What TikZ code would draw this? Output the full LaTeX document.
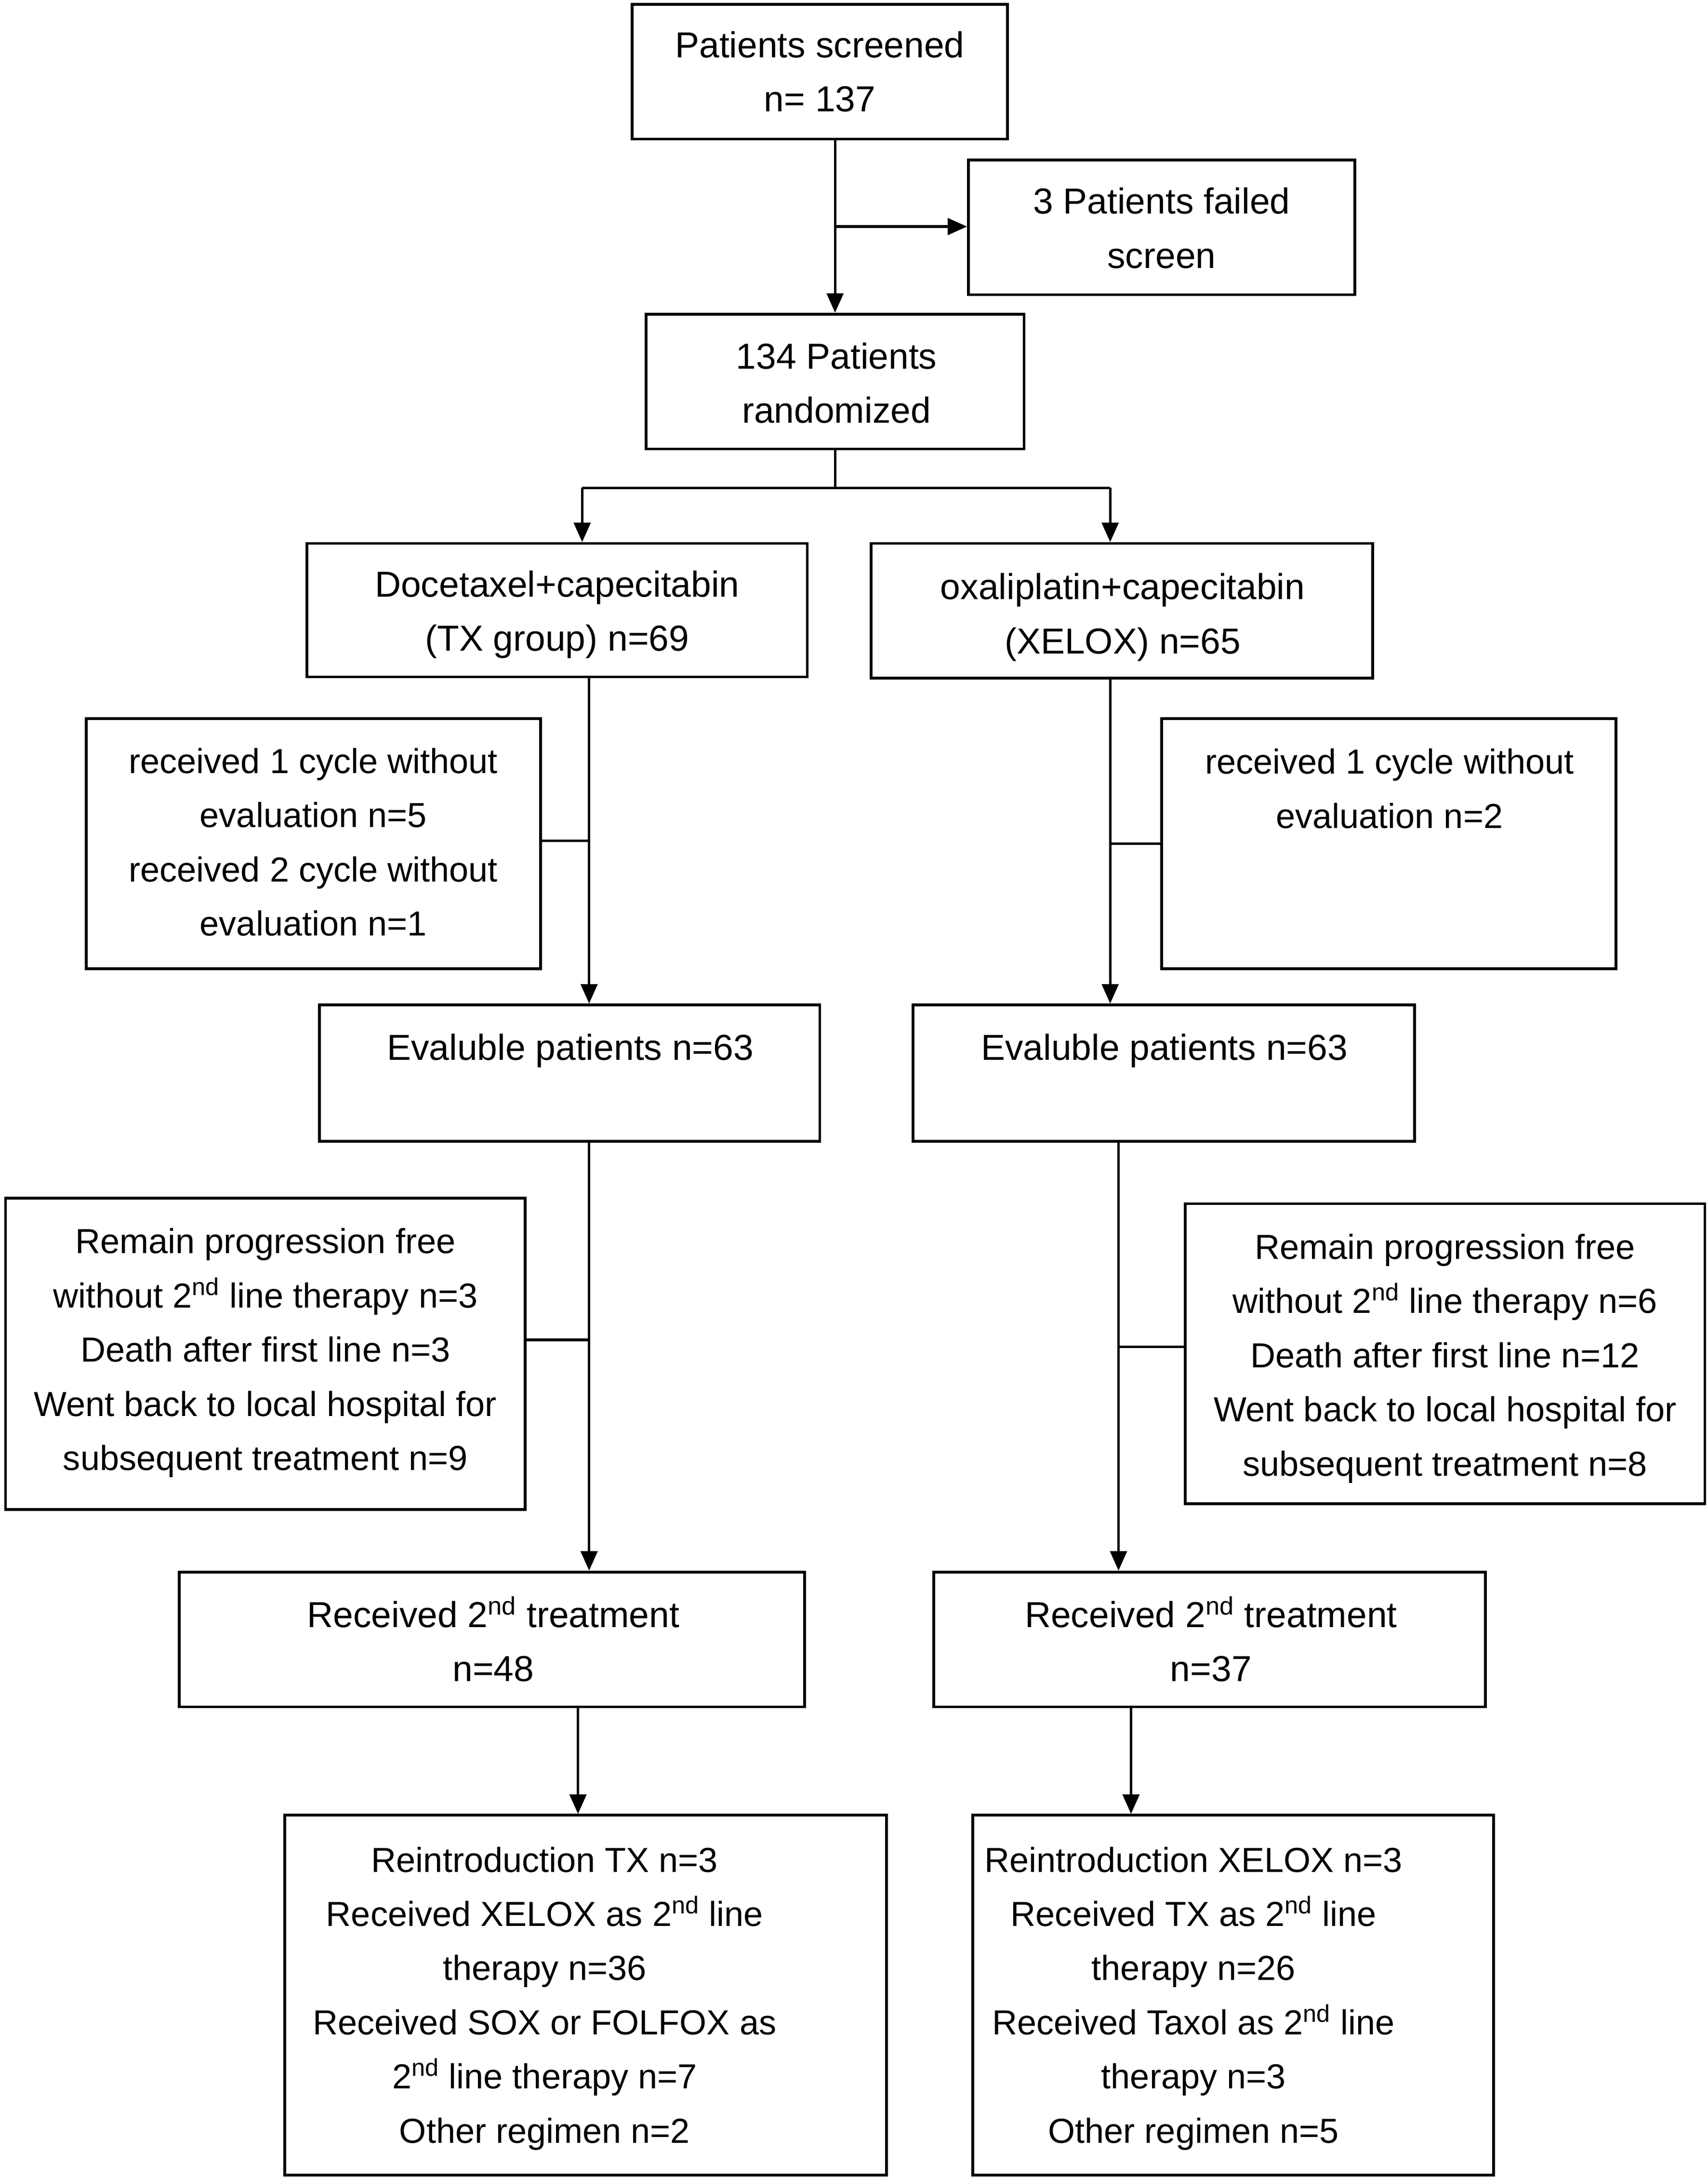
\documentclass[tikz,border=0pt]{standalone}
\usepackage{fontspec}
\setmainfont{Liberation Sans}
\usetikzlibrary{arrows.meta}
\begin{document}
\begin{tikzpicture}[x=1pt,y=-1pt,
  box/.style={draw,line width=2pt,rectangle,inner sep=0pt},
  txt/.style={align=center,inner sep=0pt,font=\fontsize{26}{39}\selectfont},
  stxt/.style={align=center,inner sep=0pt,font=\fontsize{25}{39}\selectfont},
  conn/.style={line width=1.8pt},
  arr/.style={line width=1.8pt,-{Triangle[length=14pt,width=12pt]}}]
\useasboundingbox (0,0) rectangle (1229,1567);
% boxes
\node[box,minimum width=270pt,minimum height=97pt] (scr) at (590,51.5) {};
\node[box,minimum width=278pt,minimum height=97pt] (fail) at (836,163.5) {};
\node[box,minimum width=272pt,minimum height=97pt] (rand) at (601,274.5) {};
\node[box,minimum width=360pt,minimum height=96pt] (tx) at (401,439) {};
\node[box,minimum width=361pt,minimum height=97pt] (xe) at (807.5,439.5) {};
\node[box,minimum width=327pt,minimum height=180pt] (nl) at (225.5,607) {};
\node[box,minimum width=327pt,minimum height=180pt] (nr) at (999.5,607) {};
\node[box,minimum width=360pt,minimum height=98pt] (el) at (410,772) {};
\node[box,minimum width=361pt,minimum height=98pt] (er) at (837.5,772) {};
\node[box,minimum width=374pt,minimum height=224pt] (rl) at (191,974) {};
\node[box,minimum width=374pt,minimum height=216pt] (rr) at (1040,974) {};
\node[box,minimum width=450pt,minimum height=97pt] (sl) at (354,1179.5) {};
\node[box,minimum width=397pt,minimum height=97pt] (sr) at (870.5,1179.5) {};
\node[box,minimum width=433pt,minimum height=259pt] (bl) at (421.5,1435.5) {};
\node[box,minimum width=375pt,minimum height=259pt] (br) at (887.5,1435.5) {};
% texts
\node[txt] (tscr) at (590,53) {\strut Patients screened\\\strut n= 137};
\node[txt] (tfail) at (836,165.5) {\strut 3 Patients failed\\\strut screen};
\node[txt] (trand) at (602,277) {\strut 134 Patients\\\strut randomized};
\node[txt] (ttx) at (401,441) {\strut Docetaxel+capecitabin\\\strut (TX group) n=69};
\node[txt] (txe) at (808,443) {\strut oxaliplatin+capecitabin\\\strut (XELOX) n=65};
\node[stxt] (tnl) at (225.5,607) {\strut received 1 cycle without\\\strut evaluation n=5\\\strut received 2 cycle without\\\strut evaluation n=1};
\node[stxt] (tnr) at (1000,568.5) {\strut received 1 cycle without\\\strut evaluation n=2};
\node[txt] (tel) at (410.5,755) {\strut Evaluble patients n=63};
\node[txt] (ter) at (838,755) {\strut Evaluble patients n=63};
\node[stxt] (trl) at (191,972) {\strut Remain progression free\\\strut without 2\textsuperscript{nd} line therapy n=3\\\strut Death after first line n=3\\\strut Went back to local hospital for\\\strut subsequent treatment n=9};
\node[stxt] (trr) at (1040,976) {\strut Remain progression free\\\strut without 2\textsuperscript{nd} line therapy n=6\\\strut Death after first line n=12\\\strut Went back to local hospital for\\\strut subsequent treatment n=8};
\node[txt] (tsl) at (355,1182.5) {\strut Received 2\textsuperscript{nd} treatment\\\strut n=48};
\node[txt] (tsr) at (871.5,1182.5) {\strut Received 2\textsuperscript{nd} treatment\\\strut n=37};
\node[stxt] (tbl) at (392,1436.5) {\strut Reintroduction TX n=3\\\strut Received XELOX as 2\textsuperscript{nd} line\\\strut therapy n=36\\\strut Received SOX or FOLFOX as\\\strut 2\textsuperscript{nd} line therapy n=7\\\strut Other regimen n=2};
\node[stxt] (tbr) at (859,1436.5) {\strut Reintroduction XELOX n=3\\\strut Received TX as 2\textsuperscript{nd} line\\\strut therapy n=26\\\strut Received Taxol as 2\textsuperscript{nd} line\\\strut therapy n=3\\\strut Other regimen n=5};
% connector coordinates
\coordinate (c1) at (601,163);
\coordinate (c2) at (601,351);
\coordinate (c2l) at (419,351);
\coordinate (c2r) at (799,351);
\coordinate (c3) at (424,605);
\coordinate (c4) at (799,607);
\coordinate (c5) at (424,964);
\coordinate (c6) at (805,969);
\coordinate (c7) at (416,1268);
\coordinate (c8) at (814,1268);
% connectors
\draw[arr] (scr.south -| c1) -- (rand.north -| c1);
\draw[arr] (c1) -- (fail.west |- c1);
\draw[conn] (rand.south -| c2) -- (c2);
\draw[conn] (c2l) -- (c2r);
\draw[arr] (c2l) -- (tx.north -| c2l);
\draw[arr] (c2r) -- (xe.north -| c2r);
\draw[arr] (tx.south -| c3) -- (el.north -| c3);
\draw[conn] (nl.east |- c3) -- (c3);
\draw[arr] (xe.south -| c4) -- (er.north -| c4);
\draw[conn] (c4) -- (nr.west |- c4);
\draw[arr] (el.south -| c5) -- (sl.north -| c5);
\draw[conn] (rl.east |- c5) -- (c5);
\draw[arr] (er.south -| c6) -- (sr.north -| c6);
\draw[conn] (c6) -- (rr.west |- c6);
\draw[arr] (sl.south -| c7) -- (bl.north -| c7);
\draw[arr] (sr.south -| c8) -- (br.north -| c8);
\end{tikzpicture}
\end{document}
